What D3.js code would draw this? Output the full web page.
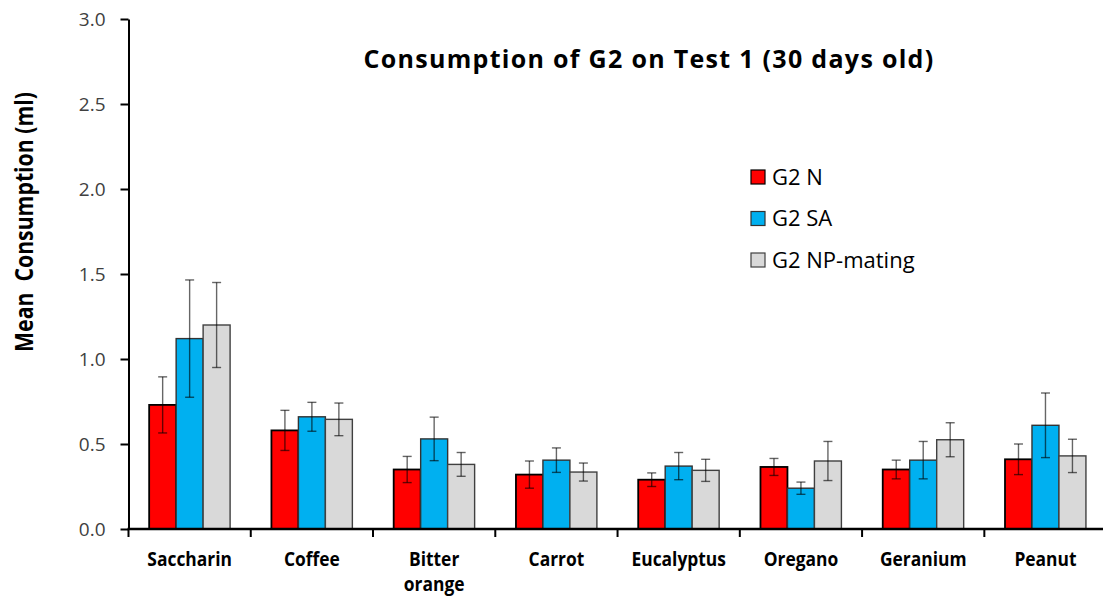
<!DOCTYPE html>
<html>
<head>
<meta charset="utf-8">
<script src="https://cdn.jsdelivr.net/npm/d3@7"></script>
<style>
  body { margin: 0; background: #fff; }
  text { font-family: "Open Sans", Lato, sans-serif; }
</style>
</head>
<body>
<div id="chart"></div>
<script>
// ----- data -----
const categories = ['Saccharin', 'Coffee', 'Bitter orange', 'Carrot', 'Eucalyptus', 'Oregano', 'Geranium', 'Peanut'];
const seriesNames = ['G2 N', 'G2 SA', 'G2 NP-mating'];
const meanN  = [0.73, 0.58, 0.35, 0.32, 0.29, 0.365, 0.35, 0.41];
const meanSA = [1.12, 0.66, 0.53, 0.405, 0.37, 0.24, 0.405, 0.61];
const meanNP = [1.20, 0.645, 0.38, 0.335, 0.345, 0.40, 0.525, 0.43];
const errN   = [0.165, 0.118, 0.077, 0.08, 0.04, 0.05, 0.055, 0.09];
const errSA  = [0.345, 0.085, 0.128, 0.072, 0.08, 0.036, 0.11, 0.19];
const errNP  = [0.25, 0.096, 0.07, 0.053, 0.065, 0.115, 0.10, 0.098];
const yTicks = [0, 0.5, 1.0, 1.5, 2.0, 2.5, 3.0];

const colors = ['#ff0000', '#00b0f0', '#d9d9d9'];
const strokes = ['#000000', '#333333', '#404040'];

const means = [meanN, meanSA, meanNP];
const errs = [errN, errSA, errNP];
const rows = [];
categories.forEach((c, i) => {
    seriesNames.forEach((s, j) => {
        rows.push({cat: c, series: s, idx: j, v: means[j][i], e: errs[j][i]});
    });
});

// ----- layout -----
const W = 1103, H = 599;
const svg = d3.select('#chart').append('svg')
    .attr('width', W).attr('height', H);

const x0 = d3.scaleBand().domain(categories).range([128.5, 1106.6]).paddingInner(0).paddingOuter(0);
const x1 = d3.scaleBand().domain(seriesNames).range([0, x0.bandwidth() * 0.662]);
const y = d3.scaleLinear().domain([0, 3]).range([529, 19]);
const groupOffset = (x0.bandwidth() - x1.range()[1]) / 2;

// title
svg.append('text')
    .attr('x', 649).attr('y', 68)
    .attr('text-anchor', 'middle')
    .attr('font-size', 25).attr('font-weight', 'bold')
    .attr('letter-spacing', 1.3)
    .attr('fill', '#000')
    .text('Consumption of G2 on Test 1 (30 days old)');

// y label (condensed like the original)
svg.append('text')
    .attr('transform', 'translate(33,222) rotate(-90) scale(0.85,1)')
    .attr('text-anchor', 'middle')
    .attr('font-size', 25).attr('font-weight', 'bold')
    .attr('fill', '#000')
    .style('white-space', 'pre')
    .text('Mean  Consumption (ml)');

// bars
const bars = svg.append('g');
bars.selectAll('rect').data(rows).join('rect')
    .attr('x', d => x0(d.cat) + groupOffset + x1(d.series))
    .attr('y', d => y(d.v))
    .attr('width', x1.bandwidth())
    .attr('height', d => y(0) - y(d.v))
    .attr('fill', d => colors[d.idx])
    .attr('stroke', d => strokes[d.idx])
    .attr('stroke-width', d => d.idx === 0 ? 1.8 : 1.4);

// error bars
const eb = svg.append('g').attr('stroke', '#000').attr('stroke-opacity', 0.6).attr('stroke-width', 1.4);
rows.forEach(d => {
    const cx = x0(d.cat) + groupOffset + x1(d.series) + x1.bandwidth() / 2;
    eb.append('line').attr('x1', cx).attr('x2', cx).attr('y1', y(d.v + d.e)).attr('y2', y(d.v - d.e));
    eb.append('line').attr('x1', cx - 4.5).attr('x2', cx + 4.5).attr('y1', y(d.v + d.e)).attr('y2', y(d.v + d.e));
    eb.append('line').attr('x1', cx - 4.5).attr('x2', cx + 4.5).attr('y1', y(d.v - d.e)).attr('y2', y(d.v - d.e));
});

// y axis
const yAxis = svg.append('g').attr('transform', 'translate(128.5,0)')
    .call(d3.axisLeft(y).tickValues(yTicks).tickFormat(d3.format('.1f')).tickSize(8).tickSizeOuter(0));
yAxis.select('.domain').attr('stroke', '#000').attr('stroke-width', 2);
yAxis.selectAll('.tick line').attr('stroke', '#000').attr('stroke-width', 2);
yAxis.selectAll('.tick text')
    .attr('font-family', '"Open Sans", Lato, sans-serif')
    .attr('font-size', 19).attr('fill', '#404040').attr('x', -23);

// x axis
const xg = svg.append('g').attr('transform', `translate(0,${y(0)})`);
xg.append('line').attr('x1', 127.5).attr('x2', W).attr('stroke', '#000').attr('stroke-width', 2.5);
const bounds = categories.map(c => x0(c)).concat([x0.range()[1]]);
xg.selectAll('line.tk').data(bounds).join('line').attr('class', 'tk')
    .attr('x1', d => d).attr('x2', d => d).attr('y1', 0).attr('y2', 8)
    .attr('stroke', '#000').attr('stroke-width', 2);

// category labels, condensed so the tall bold face keeps the original width
const labels = xg.selectAll('g.lab').data(categories).join('g').attr('class', 'lab')
    .attr('transform', d => `translate(${x0(d) + x0.bandwidth() / 2},37) scale(0.87,1)`);
labels.append('text')
    .attr('text-anchor', 'middle')
    .attr('font-size', 20).attr('font-weight', 'bold').attr('fill', '#000')
    .each(function(d) {
        const t = d3.select(this);
        d.split(' ').forEach((p, k) => {
            t.append('tspan').attr('x', 0).attr('dy', k === 0 ? 0 : 25).text(p);
        });
    });

// legend
const leg = svg.append('g').attr('transform', 'translate(751,170)');
seriesNames.forEach((s, j) => {
    const g = leg.append('g').attr('transform', `translate(0,${j * 41.5})`);
    g.append('rect').attr('width', 14).attr('height', 14)
        .attr('fill', colors[j]).attr('stroke', strokes[j]).attr('stroke-width', 1.2);
    g.append('text').attr('x', 21).attr('y', 14.5)
        .attr('font-size', 22).attr('fill', '#000').text(s);
});
</script>
</body>
</html>
